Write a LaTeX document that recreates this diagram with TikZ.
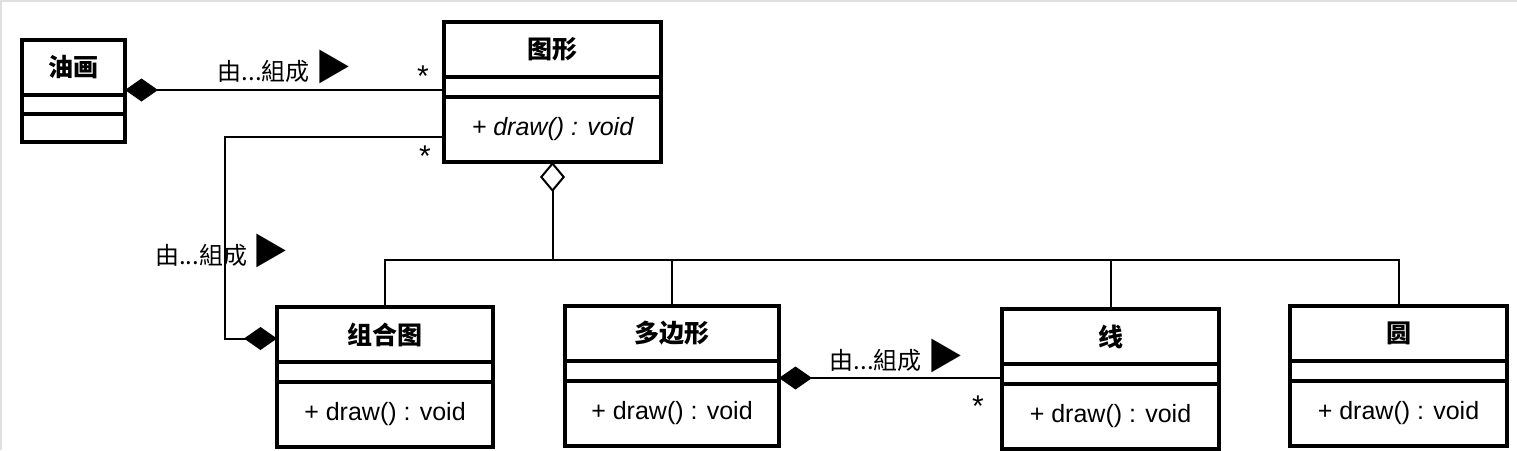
\documentclass[tikz,border=0pt]{standalone}
\usepackage{fontspec}
\setmainfont{Liberation Sans}
\newfontfamily\cjk{Noto Sans CJK SC}
\usetikzlibrary{positioning,arrows.meta}

\tikzset{
  clshead/.style={draw, line width=2pt, minimum width=214pt, minimum height=53pt, inner sep=0pt,
    font=\cjk\bfseries\fontsize{25}{25}\selectfont},
  clsmid/.style={draw, line width=2pt, minimum width=214pt, minimum height=18pt, inner sep=0pt},
  clsops/.style={draw, line width=2pt, minimum width=214pt, minimum height=63pt, inner sep=0pt,
    font=\fontsize{25}{25}\selectfont},
  boxline/.style={line width=3.5pt},
  conn/.style={line width=2pt},
  comp/.style={conn, {Diamond[length=33pt,width=23pt]}-},
  agg/.style={conn, {Diamond[open,length=30pt,width=25pt]}-},
  lbl/.style={font=\cjk\fontsize{24}{24}\selectfont, inner sep=0pt},
  mult/.style={font=\fontsize{30}{30}\selectfont, inner sep=0pt}
}

\begin{document}
\begin{tikzpicture}[x=1pt, y=-1pt]
  \useasboundingbox (0,0) rectangle (1517,450);
  \draw[black!12, line width=2pt] (1,450) -- (1,1) -- (1517,1);

  % classes
  \node[clshead, minimum width=101pt] (yh1) at (73.5,67.5) {油画};
  \node[clsmid, minimum width=101pt, minimum height=17pt, below=0pt of yh1] (yh2) {};
  \node[clsops, minimum width=101pt, minimum height=26pt, below=0pt of yh2] (yh3) {};
  \draw[boxline] (yh1.north west) rectangle (yh3.south east);

  \node[clshead, minimum width=215pt] (tx1) at (552.5,49.5) {图形};
  \node[clsmid, minimum width=215pt, below=0pt of tx1] (tx2) {};
  \node[clsops, minimum width=215pt, below=0pt of tx2] (tx3) {\itshape + draw() : void};
  \draw[boxline] (tx1.north west) rectangle (tx3.south east);

  \node[clshead] (zh1) at (385,334.5) {组合图};
  \node[clsmid, below=0pt of zh1] (zh2) {};
  \node[clsops, below=0pt of zh2] (zh3) {+ draw() : void};
  \draw[boxline] (zh1.north west) rectangle (zh3.south east);

  \node[clshead, minimum width=212pt] (dbx1) at (672,333.5) {多边形};
  \node[clsmid, minimum width=212pt, below=0pt of dbx1] (dbx2) {};
  \node[clsops, minimum width=212pt, below=0pt of dbx2] (dbx3) {+ draw() : void};
  \draw[boxline] (dbx1.north west) rectangle (dbx3.south east);

  \node[clshead, minimum width=215pt] (xian1) at (1110.5,336.5) {线};
  \node[clsmid, minimum width=215pt, below=0pt of xian1] (xian2) {};
  \node[clsops, minimum width=215pt, below=0pt of xian2] (xian3) {+ draw() : void};
  \draw[boxline] (xian1.north west) rectangle (xian3.south east);

  \node[clshead, minimum width=215pt] (yuan1) at (1398.5,333.5) {圆};
  \node[clsmid, minimum width=215pt, below=0pt of yuan1] (yuan2) {};
  \node[clsops, minimum width=215pt, below=0pt of yuan2] (yuan3) {+ draw() : void};
  \draw[boxline] (yuan1.north west) rectangle (yuan3.south east);

  % composition
  \coordinate (c1) at ([yshift=5pt]yh1.south east);
  \draw[comp] (c1) -- (c1 -| tx2.west);
  \draw[comp] ([yshift=-4pt]zh1.west) -- ++(-52,0) |- ([yshift=-7pt]tx3.west);
  \coordinate (c4) at ([yshift=-7pt]dbx2.east);
  \draw[comp] (c4) -- (c4 -| xian2.west);

  % aggregation
  \coordinate (bus) at ([yshift=-98pt]tx3.south);
  \draw[agg] (tx3.south) -- (bus);
  \draw[conn] (zh1.north) |- (yuan1.north |- bus) -- (yuan1.north);
  \draw[conn] (dbx1.north) -- (dbx1.north |- bus);
  \draw[conn] (xian1.north) -- (xian1.north |- bus);

  % labels
  \node[lbl] (l1) at (284.5,67) {由...組成 {\fontsize{36}{36}\selectfont ▶}};
  \node[lbl] (l2) at (222,251) {由...組成 {\fontsize{36}{36}\selectfont ▶}};
  \node[lbl] (l3) at (896.5,356) {由...組成 {\fontsize{36}{36}\selectfont ▶}};
  \node[mult] (m1) at (423,76) {*};
  \node[mult] (m2) at (425,156) {*};
  \node[mult] (m3) at (978,406) {*};
\end{tikzpicture}
\end{document}
